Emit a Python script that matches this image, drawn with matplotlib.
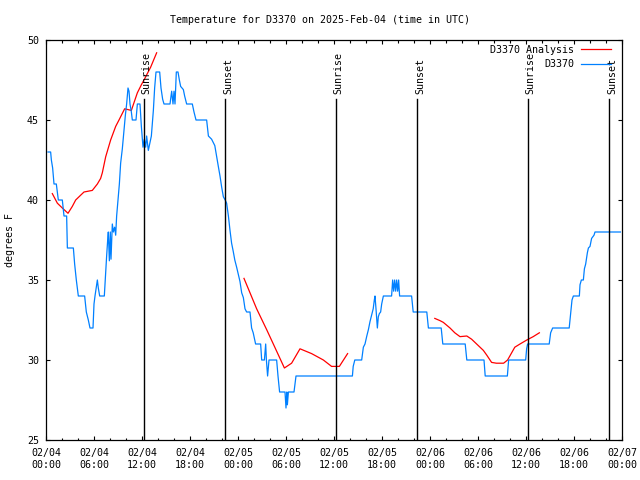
import numpy as np
import pandas as pd
import matplotlib
matplotlib.use('Agg')
import matplotlib.pyplot as plt
import matplotlib.dates as mdates

# observed temperature (hours since 2025-02-04 00:00 UTC, degF)
obs_hours = [0.25, 0.58, 0.67, 0.83, 1.0, 1.29, 1.54, 2.04, 2.25, 2.58, 2.67, 3.42, 3.58, 3.79,
             4.04, 4.83, 5.04, 5.29, 5.5, 5.875, 6.0, 6.125, 6.42, 6.54, 6.71, 7.29, 7.46, 7.58,
             7.71, 7.79, 7.92, 8.04, 8.125, 8.29, 8.42, 8.58, 8.71, 8.83, 9.0, 9.17, 9.33, 9.54,
             9.75, 9.92, 10.08, 10.25, 10.375, 10.5, 10.67, 10.79, 11.25, 11.42, 11.75, 11.92,
             12.125, 12.29, 12.46, 12.58, 12.79, 13.0, 13.17, 13.42, 13.58, 13.75, 14.21, 14.375,
             14.58, 14.75, 15.5, 15.71, 15.875, 16.0, 16.125, 16.29, 16.5, 16.67, 16.83, 17.17,
             17.33, 17.58, 18.29, 18.5, 18.75, 20.08, 20.3, 20.7, 21.1, 21.33, 21.54, 21.75,
             21.96, 22.17, 22.4, 22.58, 22.8, 23.0, 23.2, 23.4, 23.6, 23.83, 24.25, 24.46, 24.67,
             24.875, 25.08, 25.5, 25.7, 25.9, 26.2, 26.83, 26.96, 27.3, 27.46, 27.55, 27.7, 27.8,
             27.875, 28.83, 29.0, 29.2, 29.875, 30.0, 30.1, 30.17, 30.3, 31.0, 31.25, 38.3, 38.4,
             38.6, 39.46, 39.67, 39.875, 40.1, 40.3, 40.5, 40.7, 40.9, 41.04, 41.125, 41.25, 41.42,
             41.54, 41.67, 41.83, 41.96, 42.17, 43.2, 43.33, 43.46, 43.58, 43.71, 43.83, 43.96,
             44.08, 44.2, 45.7, 45.9, 47.6, 47.8, 49.4, 49.6, 52.4, 52.6, 54.75, 54.9, 57.67,
             57.83, 59.96, 60.08, 60.2, 62.9, 63.08, 63.33, 65.4, 65.58, 65.75, 65.92, 66.67,
             66.75, 66.92, 67.17, 67.3, 67.46, 67.67, 67.8, 68.0, 68.2, 68.5, 68.625, 71.8]
obs_temps = [43.0, 43.0, 42.5, 42.0, 41.0, 41.0, 40.0, 40.0, 39.0, 39.0, 37.0, 37.0, 36.0, 35.0,
             34.0, 34.0, 33.0, 32.5, 32.0, 32.0, 33.5, 34.0, 35.0, 34.5, 34.0, 34.0, 35.5, 36.5,
             37.5, 38.0, 36.2, 38.0, 36.3, 38.5, 38.0, 38.3, 37.8, 39.0, 40.0, 41.0, 42.3, 43.2,
             44.4, 45.3, 46.0, 47.0, 46.8, 46.0, 45.5, 45.0, 45.0, 46.0, 46.0, 44.6,
             43.3, 43.8, 43.3, 44.0, 43.1, 43.6, 44.0, 45.6, 47.0, 48.0, 48.0, 47.0,
             46.3, 46.0, 46.0, 46.8, 46.0, 46.8, 46.0, 48.0, 48.0, 47.5, 47.1, 46.9,
             46.5, 46.0, 46.0, 45.5, 45.0, 45.0, 44.0, 43.8, 43.4, 42.7, 42.1, 41.5,
             40.8, 40.2, 40.0, 39.8, 39.0, 38.1, 37.3, 36.8, 36.25, 35.8, 34.9, 34.2, 33.9,
             33.2, 33.0, 33.0, 32.0, 31.7, 31.0, 31.0, 30.0, 30.0, 31.0, 30.0, 29.0, 29.6,
             30.0, 30.0, 29.0, 28.0, 28.0, 27.0, 28.0, 27.2, 28.0, 28.0, 29.0, 29.0, 29.6,
             30.0, 30.0, 30.8, 31.0, 31.5, 31.9, 32.4, 32.8, 33.2, 33.75, 34.0, 33.2, 32.0,
             32.7, 32.9, 33.0, 33.5, 34.0, 34.0, 35.0, 34.3, 35.0, 34.3, 35.0, 34.3,
             35.0, 34.0, 34.0, 33.0, 33.0, 32.0, 32.0, 31.0, 31.0, 30.0, 30.0, 29.0, 29.0,
             30.0, 30.0, 30.7, 31.0, 31.0, 31.7, 32.0, 32.0, 32.9, 33.75, 34.0, 34.0,
             34.7, 35.0, 35.0, 35.7, 36.0, 36.7, 37.0, 37.1, 37.6, 37.8, 38.0, 38.0]

# analysis segments
ana1_hours = [0.79, 1.42, 2.04, 2.75, 3.29, 3.71, 4.33, 4.75, 5.79, 6.42, 6.83, 7.04, 7.46,
              8.08, 8.71, 9.125, 9.83, 10.67, 11.42, 11.92, 12.25, 13.08, 13.83]
ana1_temps = [40.4, 39.8, 39.5, 39.17, 39.6, 40.0, 40.3, 40.5, 40.6, 41.0, 41.35, 41.7, 42.7,
              43.75, 44.6, 45.0, 45.7, 45.6, 46.7, 47.2, 47.5, 48.3, 49.2]
ana2_hours = [24.75, 25.5, 26.33, 27.58, 28.6, 29.8, 30.7, 31.75, 33.2, 34.67, 35.7, 36.67, 37.7]
ana2_temps = [35.1, 34.2, 33.2, 31.9, 30.8, 29.5, 29.8, 30.7, 30.4, 30.0, 29.6, 29.6, 30.4]
ana3_hours = [48.6, 49.25, 49.67, 50.5, 51.1, 51.75, 52.6, 53.2, 54.67, 55.1, 55.7, 56.3,
              57.2, 57.7, 58.6, 59.25, 60.1, 60.9, 61.67]
ana3_temps = [32.6, 32.46, 32.35, 32.0, 31.7, 31.46, 31.5, 31.3, 30.6, 30.3, 29.85, 29.8,
              29.8, 30.0, 30.8, 31.0, 31.25, 31.46, 31.7]

# sun events
sun_hours = [12.2, 22.4, 36.2, 46.4, 60.2, 70.4]
sun_labels = ['Sunrise', 'Sunset', 'Sunrise', 'Sunset', 'Sunrise', 'Sunset']

start = pd.Timestamp('2025-02-04 00:00')
def tt(h):
    return start + pd.to_timedelta(np.array(h), unit='h')

plt.rcParams['font.family'] = ['DejaVu Sans Mono']
fs = 7.2

fig = plt.figure(figsize=(6.4, 4.8), dpi=100)
ax = fig.add_axes([46/640, 40/480, 576/640, 400/480])

ax.plot(tt(ana1_hours), ana1_temps, color='#ff0000', lw=0.9, label='D3370 Analysis')
ax.plot(tt(ana2_hours), ana2_temps, color='#ff0000', lw=0.9)
ax.plot(tt(ana3_hours), ana3_temps, color='#ff0000', lw=0.9)
ax.plot(tt(obs_hours), obs_temps, color='#0080ff', lw=0.9, label='D3370')

for h, lab in zip(sun_hours, sun_labels):
    t = tt([h])[0]
    ax.plot([t, t], [25, 46.3], color='black', lw=1.0)
    ax.text(tt([h + 0.4])[0], 46.6, lab, rotation=90, ha='center', va='bottom', fontsize=fs)

ax.set_xlim(start, start + pd.Timedelta(hours=72))
ax.set_ylim(25, 50)
ax.set_yticks([25, 30, 35, 40, 45, 50])
ax.xaxis.set_major_locator(mdates.HourLocator(byhour=[0, 6, 12, 18]))
ax.xaxis.set_minor_locator(mdates.HourLocator(byhour=range(0, 24, 2)))
ax.xaxis.set_major_formatter(mdates.DateFormatter('%m/%d\n%H:%M'))
ax.tick_params(which='both', direction='in', top=True, right=True, labelsize=fs, width=0.8)
ax.tick_params(which='major', length=3.2)
ax.tick_params(which='minor', length=1.8)
ax.tick_params(axis='x', pad=6)
ax.tick_params(axis='y', pad=5)
for s in ax.spines.values():
    s.set_linewidth(0.9)

leg = ax.legend(loc='upper right', bbox_to_anchor=((612 - 46)/576, 1 - 4/400), frameon=False,
                markerfirst=False, fontsize=fs, handlelength=3.0, handletextpad=0.7,
                labelspacing=0.45, borderaxespad=0.0, borderpad=0.1)

fig.text(0.5, 1 - 20/480, 'Temperature for D3370 on 2025-Feb-04 (time in UTC)',
         ha='center', va='center', fontsize=fs)
fig.text(10/640, 0.5, 'degrees F', rotation=90, ha='center', va='center', fontsize=fs)

fig.savefig('out.png', dpi=100)
